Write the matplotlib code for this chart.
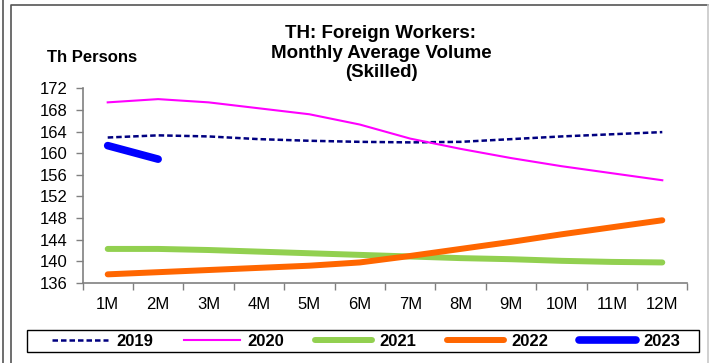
import matplotlib
matplotlib.use("Agg")
import matplotlib.pyplot as plt
from matplotlib.lines import Line2D
from matplotlib.patches import Rectangle
import numpy as np

plt.rcParams['font.family'] = ['Liberation Sans', 'DejaVu Sans']

months = ["1M", "2M", "3M", "4M", "5M", "6M", "7M", "8M", "9M", "10M", "11M", "12M"]
y2019 = [162.9, 163.3, 163.1, 162.6, 162.3, 162.1, 162.0, 162.1, 162.6, 163.1, 163.5, 163.9]
y2020 = [169.4, 170.0, 169.4, 168.3, 167.2, 165.3, 162.7, 160.8, 159.1, 157.6, 156.3, 155.0]
y2021 = [142.3, 142.3, 142.1, 141.8, 141.5, 141.2, 140.9, 140.6, 140.4, 140.1, 139.9, 139.8]
y2022 = [137.6, 138.0, 138.4, 138.8, 139.2, 139.8, 141.0, 142.3, 143.6, 145.0, 146.3, 147.6]
y2023 = [161.4, 158.9]
yticks = [136, 140, 144, 148, 152, 156, 160, 164, 168, 172]

W, H = 710, 363
fig = plt.figure(figsize=(W / 100, H / 100), dpi=100)
ax = fig.add_axes([82.5 / W, 1 - 283 / H, (687.5 - 82.5) / W, (283 - 88.3) / H])

x = np.arange(1, len(months) + 1)
l19, = ax.plot(x, y2019, color="#000080", lw=1.8, ls=(0, (2.2, 1.2)))
l20, = ax.plot(x, y2020, color="#FF00FF", lw=1.5)
l21, = ax.plot(x, y2021, color="#92D050", lw=4.3, solid_capstyle="round")
l22, = ax.plot(x, y2022, color="#FF6600", lw=4.3, solid_capstyle="round")
l23, = ax.plot(x[:len(y2023)], y2023, color="#0000FF", lw=5.5, solid_capstyle="round")

ax.set_xlim(0.5, len(months) + 0.5)
ax.set_ylim(yticks[0], yticks[-1])
ax.set_yticks(yticks)
ax.set_xticks(x)
ax.set_xticklabels(months)
ax.set_xticks(np.arange(0.5, len(months) + 1, 1), minor=True)
ax.tick_params(axis="x", which="major", length=0, pad=10, labelsize=12)
ax.tick_params(axis="x", which="minor", length=5, width=1, color="#808080", direction="out")
ax.tick_params(axis="y", length=5, width=1, color="#808080", direction="out", pad=6, labelsize=12)

for side in ("top", "right"):
    ax.spines[side].set_visible(False)
for side in ("left", "bottom"):
    ax.spines[side].set_color("#808080")
    ax.spines[side].set_linewidth(1.2)

fig.text(92 / W, 1 - 57 / H, "Th Persons", ha="center", va="center",
         fontsize=12, fontweight="bold")
fig.text(381 / W, 1 - 53 / H, "TH: Foreign Workers:\nMonthly Average Volume\n(Skilled)",
         ha="center", va="center", fontsize=13.5, fontweight="bold", linespacing=1.2)

leg = fig.legend([l19, l20, l21, l22, l23], ["2019", "2020", "2021", "2022", "2023"],
                 loc="center", bbox_to_anchor=(366 / W, 1 - 341 / H), ncol=5,
                 frameon=False, handlelength=3.4, handletextpad=0.45,
                 columnspacing=1.85, prop={"size": 12, "weight": "bold"})

fig.patches.append(Rectangle((27.5 / W, 1 - 352 / H), (698.5 - 27.5) / W, 22 / H,
                             transform=fig.transFigure, fill=False,
                             edgecolor="black", lw=1.0))

# outer frames
fig.lines.append(Line2D([2.5 / W, 2.5 / W], [0, 1], transform=fig.transFigure,
                        color="#555555", lw=1.2))
fig.lines.append(Line2D([10.7 / W, 10.7 / W, 708 / W], [0, 1 - 5 / H, 1 - 5 / H],
                        transform=fig.transFigure, color="#555555", lw=1.2))
fig.lines.append(Line2D([708 / W, 708 / W], [1 - 5 / H, 0], transform=fig.transFigure,
                        color="#C8C8C8", lw=1.2))

fig.savefig("out.png", dpi=100)
